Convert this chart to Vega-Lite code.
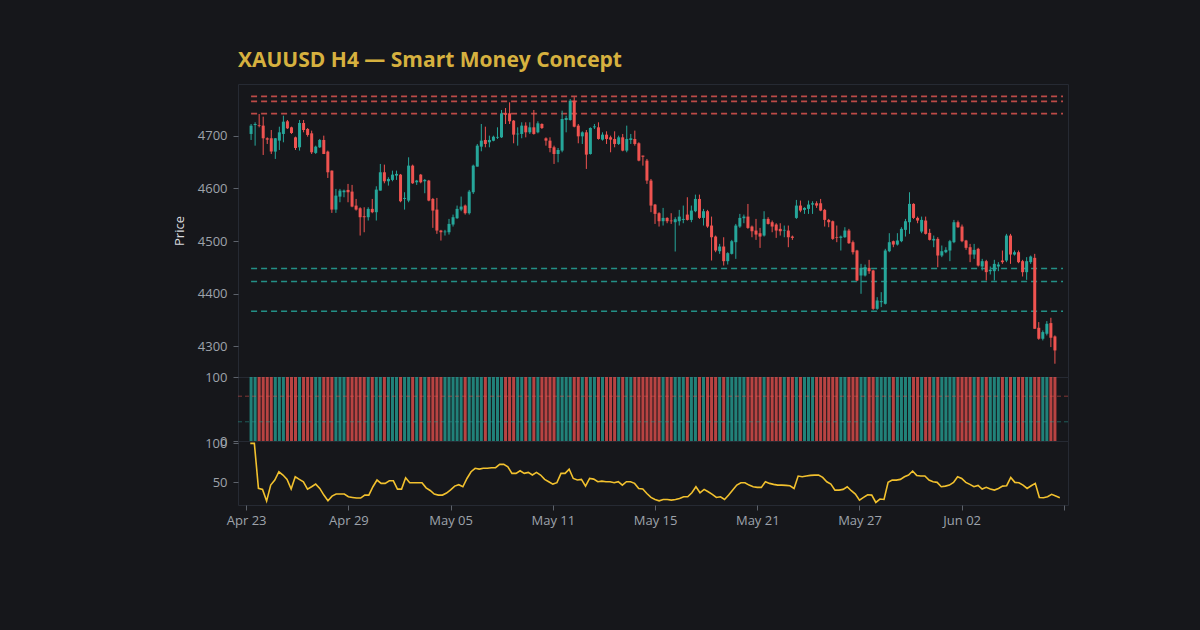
{
  "$schema": "https://vega.github.io/schema/vega-lite/v6.json",
  "background": "#16171b",
  "padding": {"left": 172, "top": 49, "right": 131, "bottom": 102},
  "spacing": 0,
  "bounds": "flush",
  "datasets": {
    "bars": [
      {"i":0,"o":4703.2,"h":4722.1,"l":4691.8,"c":4718.9,"v":100,"rsi":null},
      {"i":1,"o":4720.2,"h":4725.3,"l":4681.0,"c":4722.1,"v":100,"rsi":100},
      {"i":2,"o":4719.6,"h":4741.1,"l":4715.8,"c":4718.3,"v":100,"rsi":100},
      {"i":3,"o":4719.0,"h":4736.0,"l":4663.3,"c":4695.0,"v":100,"rsi":42.3},
      {"i":4,"o":4695.0,"h":4696.8,"l":4684.2,"c":4692.4,"v":100,"rsi":41},
      {"i":5,"o":4695.0,"h":4710.7,"l":4665.2,"c":4669.7,"v":100,"rsi":26},
      {"i":6,"o":4669.7,"h":4695.5,"l":4655.8,"c":4695.0,"v":100,"rsi":46.6},
      {"i":7,"o":4690.5,"h":4717.0,"l":4672.8,"c":4706.3,"v":100,"rsi":53},
      {"i":8,"o":4703.2,"h":4737.9,"l":4687.4,"c":4726.5,"v":100,"rsi":63.6},
      {"i":9,"o":4727.2,"h":4729.7,"l":4712.6,"c":4713.9,"v":100,"rsi":59.4},
      {"i":10,"o":4715.8,"h":4717.0,"l":4703.2,"c":4705.0,"v":100,"rsi":53.8},
      {"i":11,"o":4696.8,"h":4698.1,"l":4672.8,"c":4676.6,"v":100,"rsi":41.4},
      {"i":12,"o":4677.9,"h":4729.7,"l":4671.6,"c":4724.0,"v":100,"rsi":57.2},
      {"i":13,"o":4724.0,"h":4729.7,"l":4706.3,"c":4710.7,"v":100,"rsi":53.8},
      {"i":14,"o":4712.6,"h":4714.5,"l":4698.1,"c":4701.3,"v":100,"rsi":50.8},
      {"i":15,"o":4704.4,"h":4709.5,"l":4665.2,"c":4668.4,"v":100,"rsi":41.4},
      {"i":16,"o":4667.2,"h":4681.0,"l":4665.2,"c":4679.1,"v":100,"rsi":44.4},
      {"i":17,"o":4677.9,"h":4693.7,"l":4676.6,"c":4691.8,"v":100,"rsi":47.8},
      {"i":18,"o":4691.8,"h":4700.0,"l":4665.0,"c":4665.2,"v":100,"rsi":42.3},
      {"i":19,"o":4669.7,"h":4671.6,"l":4619.7,"c":4630.5,"v":100,"rsi":33.7},
      {"i":20,"o":4633.6,"h":4634.0,"l":4553.4,"c":4559.7,"v":100,"rsi":26.4},
      {"i":21,"o":4559.7,"h":4598.9,"l":4553.4,"c":4586.2,"v":100,"rsi":32.4},
      {"i":22,"o":4584.3,"h":4598.9,"l":4573.6,"c":4595.7,"v":100,"rsi":35},
      {"i":23,"o":4592.6,"h":4597.6,"l":4583.1,"c":4595.7,"v":100,"rsi":35},
      {"i":24,"o":4597.0,"h":4608.4,"l":4573.6,"c":4592.6,"v":100,"rsi":35},
      {"i":25,"o":4593.8,"h":4606.5,"l":4564.1,"c":4565.4,"v":100,"rsi":31.6},
      {"i":26,"o":4567.3,"h":4579.9,"l":4557.8,"c":4559.7,"v":100,"rsi":30.7},
      {"i":27,"o":4562.2,"h":4564.1,"l":4510.4,"c":4545.2,"v":100,"rsi":29.9},
      {"i":28,"o":4547.1,"h":4564.1,"l":4516.7,"c":4545.2,"v":100,"rsi":29.9},
      {"i":29,"o":4545.2,"h":4564.1,"l":4538.9,"c":4561.0,"v":100,"rsi":33.7},
      {"i":30,"o":4561.0,"h":4579.9,"l":4552.8,"c":4554.7,"v":100,"rsi":33.7},
      {"i":31,"o":4554.7,"h":4603.9,"l":4538.9,"c":4597.6,"v":100,"rsi":44.4},
      {"i":32,"o":4595.7,"h":4646.3,"l":4595.7,"c":4630.5,"v":100,"rsi":53},
      {"i":33,"o":4630.5,"h":4645.0,"l":4609.6,"c":4613.4,"v":100,"rsi":48.7},
      {"i":34,"o":4613.4,"h":4621.0,"l":4605.2,"c":4617.8,"v":100,"rsi":48.7},
      {"i":35,"o":4616.0,"h":4633.6,"l":4613.4,"c":4626.0,"v":100,"rsi":52},
      {"i":36,"o":4624.2,"h":4633.6,"l":4616.0,"c":4627.4,"v":100,"rsi":52},
      {"i":37,"o":4626.0,"h":4627.3,"l":4573.6,"c":4575.5,"v":100,"rsi":41.4},
      {"i":38,"o":4579.9,"h":4592.6,"l":4559.7,"c":4581.8,"v":100,"rsi":41.4},
      {"i":39,"o":4576.8,"h":4658.9,"l":4573.6,"c":4643.1,"v":100,"rsi":55.9},
      {"i":40,"o":4643.1,"h":4645.0,"l":4608.4,"c":4609.6,"v":100,"rsi":49.6},
      {"i":41,"o":4611.5,"h":4616.0,"l":4606.5,"c":4614.7,"v":100,"rsi":49.6},
      {"i":42,"o":4626.0,"h":4627.3,"l":4609.6,"c":4611.5,"v":100,"rsi":49.6},
      {"i":43,"o":4613.4,"h":4617.8,"l":4590.7,"c":4616.0,"v":100,"rsi":49.6},
      {"i":44,"o":4614.7,"h":4616.0,"l":4575.5,"c":4576.8,"v":100,"rsi":43},
      {"i":45,"o":4579.9,"h":4581.8,"l":4525.0,"c":4557.8,"v":100,"rsi":39.6},
      {"i":46,"o":4559.7,"h":4581.8,"l":4513.6,"c":4519.9,"v":100,"rsi":35},
      {"i":47,"o":4519.9,"h":4521.2,"l":4500.9,"c":4516.7,"v":100,"rsi":33.7},
      {"i":48,"o":4516.7,"h":4521.2,"l":4510.4,"c":4518.0,"v":100,"rsi":33.7},
      {"i":49,"o":4516.7,"h":4542.0,"l":4512.3,"c":4532.5,"v":100,"rsi":36.3},
      {"i":50,"o":4531.3,"h":4550.2,"l":4527.5,"c":4545.2,"v":100,"rsi":40.5},
      {"i":51,"o":4543.3,"h":4567.3,"l":4542.0,"c":4561.0,"v":100,"rsi":45.2},
      {"i":52,"o":4559.7,"h":4584.4,"l":4556.6,"c":4565.4,"v":100,"rsi":47},
      {"i":53,"o":4567.3,"h":4569.2,"l":4550.2,"c":4552.8,"v":100,"rsi":44.4},
      {"i":54,"o":4552.8,"h":4597.0,"l":4550.2,"c":4593.8,"v":100,"rsi":55},
      {"i":55,"o":4592.6,"h":4645.0,"l":4589.4,"c":4643.1,"v":100,"rsi":63.6},
      {"i":56,"o":4641.2,"h":4684.2,"l":4641.2,"c":4681.0,"v":100,"rsi":68},
      {"i":57,"o":4679.1,"h":4722.1,"l":4670.3,"c":4690.5,"v":100,"rsi":67},
      {"i":58,"o":4691.8,"h":4717.0,"l":4677.9,"c":4684.2,"v":100,"rsi":68},
      {"i":59,"o":4687.4,"h":4700.0,"l":4677.9,"c":4691.8,"v":100,"rsi":68},
      {"i":60,"o":4690.5,"h":4700.0,"l":4689.3,"c":4698.1,"v":100,"rsi":68.8},
      {"i":61,"o":4696.2,"h":4715.8,"l":4693.7,"c":4697.6,"v":100,"rsi":68.8},
      {"i":62,"o":4696.8,"h":4748.7,"l":4695.6,"c":4742.3,"v":100,"rsi":73},
      {"i":63,"o":4742.3,"h":4752.4,"l":4722.1,"c":4739.8,"v":100,"rsi":73},
      {"i":64,"o":4742.3,"h":4763.2,"l":4722.1,"c":4727.2,"v":100,"rsi":70},
      {"i":65,"o":4728.4,"h":4729.7,"l":4685.5,"c":4701.9,"v":100,"rsi":61.5},
      {"i":66,"o":4702.5,"h":4715.8,"l":4681.0,"c":4703.8,"v":100,"rsi":61.5},
      {"i":67,"o":4703.2,"h":4725.3,"l":4695.0,"c":4719.0,"v":100,"rsi":64.9},
      {"i":68,"o":4719.0,"h":4725.3,"l":4696.8,"c":4706.3,"v":100,"rsi":61.5},
      {"i":69,"o":4706.3,"h":4725.3,"l":4703.2,"c":4715.8,"v":100,"rsi":62.8},
      {"i":70,"o":4715.8,"h":4748.7,"l":4701.9,"c":4703.2,"v":100,"rsi":59.4},
      {"i":71,"o":4706.3,"h":4727.2,"l":4704.4,"c":4723.4,"v":100,"rsi":62.8},
      {"i":72,"o":4722.1,"h":4723.4,"l":4712.6,"c":4714.5,"v":100,"rsi":59.4},
      {"i":73,"o":4694.9,"h":4696.8,"l":4681.0,"c":4690.5,"v":100,"rsi":53.8},
      {"i":74,"o":4690.5,"h":4696.8,"l":4668.4,"c":4676.6,"v":100,"rsi":50.8},
      {"i":75,"o":4677.9,"h":4681.0,"l":4646.3,"c":4665.2,"v":100,"rsi":47.8},
      {"i":76,"o":4665.2,"h":4676.6,"l":4649.4,"c":4672.8,"v":100,"rsi":49.6},
      {"i":77,"o":4671.6,"h":4747.4,"l":4668.4,"c":4731.6,"v":100,"rsi":61.5},
      {"i":78,"o":4729.7,"h":4737.9,"l":4706.3,"c":4733.5,"v":100,"rsi":61.5},
      {"i":79,"o":4729.7,"h":4769.5,"l":4728.4,"c":4766.3,"v":100,"rsi":67},
      {"i":80,"o":4766.3,"h":4773.0,"l":4715.8,"c":4717.0,"v":100,"rsi":55},
      {"i":81,"o":4719.0,"h":4722.1,"l":4685.5,"c":4698.7,"v":100,"rsi":53},
      {"i":82,"o":4698.7,"h":4708.2,"l":4684.2,"c":4706.3,"v":100,"rsi":53.8},
      {"i":83,"o":4706.3,"h":4710.7,"l":4636.8,"c":4664.0,"v":100,"rsi":45.2},
      {"i":84,"o":4665.2,"h":4715.8,"l":4664.0,"c":4714.5,"v":100,"rsi":55},
      {"i":85,"o":4715.8,"h":4722.1,"l":4712.6,"c":4717.6,"v":100,"rsi":54.2},
      {"i":86,"o":4715.8,"h":4725.3,"l":4692.4,"c":4693.7,"v":100,"rsi":50.8},
      {"i":87,"o":4692.4,"h":4706.3,"l":4690.5,"c":4701.9,"v":100,"rsi":51.6},
      {"i":88,"o":4701.9,"h":4708.2,"l":4684.2,"c":4693.7,"v":100,"rsi":50.8},
      {"i":89,"o":4696.8,"h":4700.0,"l":4668.4,"c":4692.4,"v":100,"rsi":50.8},
      {"i":90,"o":4693.7,"h":4708.2,"l":4677.9,"c":4684.2,"v":100,"rsi":49.5},
      {"i":91,"o":4684.2,"h":4700.0,"l":4682.3,"c":4696.8,"v":100,"rsi":50.8},
      {"i":92,"o":4696.8,"h":4703.2,"l":4670.3,"c":4671.6,"v":100,"rsi":46.5},
      {"i":93,"o":4671.6,"h":4719.0,"l":4668.4,"c":4693.7,"v":100,"rsi":50.8},
      {"i":94,"o":4691.8,"h":4703.2,"l":4684.2,"c":4694.9,"v":100,"rsi":50.8},
      {"i":95,"o":4693.7,"h":4709.5,"l":4681.0,"c":4684.2,"v":100,"rsi":48.7},
      {"i":96,"o":4685.5,"h":4687.4,"l":4651.3,"c":4652.6,"v":100,"rsi":42.2},
      {"i":97,"o":4662.1,"h":4662.1,"l":4643.1,"c":4660.0,"v":100,"rsi":41.4},
      {"i":98,"o":4652.6,"h":4655.8,"l":4608.4,"c":4614.7,"v":100,"rsi":35.8},
      {"i":99,"o":4614.7,"h":4617.8,"l":4554.7,"c":4567.3,"v":100,"rsi":30.7},
      {"i":100,"o":4569.2,"h":4570.4,"l":4532.5,"c":4551.5,"v":100,"rsi":28.1},
      {"i":101,"o":4552.8,"h":4554.7,"l":4527.5,"c":4537.6,"v":100,"rsi":26.4},
      {"i":102,"o":4537.6,"h":4562.9,"l":4529.4,"c":4543.9,"v":100,"rsi":28.1},
      {"i":103,"o":4543.9,"h":4545.2,"l":4533.8,"c":4537.6,"v":100,"rsi":28.1},
      {"i":104,"o":4538.9,"h":4552.8,"l":4532.5,"c":4537.6,"v":100,"rsi":27.3},
      {"i":105,"o":4535.7,"h":4545.2,"l":4480.1,"c":4541.4,"v":100,"rsi":28.1},
      {"i":106,"o":4537.6,"h":4559.1,"l":4529.4,"c":4546.4,"v":100,"rsi":29.4},
      {"i":107,"o":4540.1,"h":4567.3,"l":4533.8,"c":4542.0,"v":100,"rsi":31.6},
      {"i":108,"o":4550.2,"h":4583.1,"l":4538.9,"c":4540.1,"v":100,"rsi":31.6},
      {"i":109,"o":4540.1,"h":4567.3,"l":4535.7,"c":4557.8,"v":100,"rsi":36.7},
      {"i":110,"o":4556.6,"h":4588.1,"l":4554.7,"c":4579.9,"v":100,"rsi":44.4},
      {"i":111,"o":4579.9,"h":4588.1,"l":4542.0,"c":4543.9,"v":100,"rsi":36.7},
      {"i":112,"o":4543.9,"h":4561.0,"l":4529.4,"c":4556.6,"v":100,"rsi":41},
      {"i":113,"o":4556.6,"h":4559.1,"l":4525.0,"c":4527.5,"v":100,"rsi":38},
      {"i":114,"o":4529.4,"h":4546.4,"l":4463.0,"c":4507.2,"v":100,"rsi":34.6},
      {"i":115,"o":4508.5,"h":4510.4,"l":4478.8,"c":4482.0,"v":100,"rsi":30.7},
      {"i":116,"o":4480.7,"h":4494.6,"l":4475.7,"c":4489.6,"v":100,"rsi":31.6},
      {"i":117,"o":4489.6,"h":4507.2,"l":4453.5,"c":4461.8,"v":100,"rsi":28.1},
      {"i":118,"o":4461.8,"h":4478.8,"l":4455.4,"c":4477.0,"v":100,"rsi":33.7},
      {"i":119,"o":4475.7,"h":4502.2,"l":4474.4,"c":4499.7,"v":100,"rsi":40.1},
      {"i":120,"o":4497.8,"h":4532.5,"l":4466.2,"c":4529.4,"v":100,"rsi":46.5},
      {"i":121,"o":4527.5,"h":4551.5,"l":4525.0,"c":4543.9,"v":100,"rsi":49.5},
      {"i":122,"o":4543.3,"h":4550.2,"l":4533.8,"c":4546.4,"v":100,"rsi":49.5},
      {"i":123,"o":4546.4,"h":4570.4,"l":4523.1,"c":4524.9,"v":100,"rsi":46.5},
      {"i":124,"o":4527.5,"h":4529.4,"l":4507.2,"c":4518.6,"v":100,"rsi":44.4},
      {"i":125,"o":4519.9,"h":4542.0,"l":4502.2,"c":4512.3,"v":100,"rsi":43.6},
      {"i":126,"o":4514.8,"h":4525.0,"l":4487.0,"c":4508.5,"v":100,"rsi":43.6},
      {"i":127,"o":4510.4,"h":4556.6,"l":4508.5,"c":4542.0,"v":100,"rsi":50.8},
      {"i":128,"o":4542.0,"h":4545.2,"l":4531.3,"c":4532.5,"v":100,"rsi":48.7},
      {"i":129,"o":4535.7,"h":4538.9,"l":4516.7,"c":4527.5,"v":100,"rsi":47.4},
      {"i":130,"o":4531.3,"h":4533.8,"l":4506.0,"c":4519.9,"v":100,"rsi":46.5},
      {"i":131,"o":4523.1,"h":4533.8,"l":4510.4,"c":4518.6,"v":100,"rsi":46.5},
      {"i":132,"o":4519.9,"h":4529.4,"l":4507.2,"c":4521.2,"v":100,"rsi":46.1},
      {"i":133,"o":4519.9,"h":4529.4,"l":4488.3,"c":4507.2,"v":100,"rsi":45.7},
      {"i":134,"o":4508.5,"h":4510.4,"l":4502.2,"c":4506.0,"v":100,"rsi":42.2},
      {"i":135,"o":4543.9,"h":4578.0,"l":4542.0,"c":4567.3,"v":100,"rsi":58.1},
      {"i":136,"o":4567.3,"h":4576.8,"l":4554.7,"c":4557.8,"v":100,"rsi":57.2},
      {"i":137,"o":4559.1,"h":4564.1,"l":4551.5,"c":4562.9,"v":100,"rsi":58.1},
      {"i":138,"o":4561.0,"h":4576.8,"l":4551.5,"c":4569.2,"v":100,"rsi":58.9},
      {"i":139,"o":4569.2,"h":4575.5,"l":4551.5,"c":4571.7,"v":100,"rsi":59.3},
      {"i":140,"o":4571.7,"h":4575.5,"l":4562.9,"c":4567.3,"v":100,"rsi":59.3},
      {"i":141,"o":4571.7,"h":4579.9,"l":4556.6,"c":4557.8,"v":100,"rsi":56.4},
      {"i":142,"o":4559.1,"h":4561.0,"l":4527.5,"c":4540.1,"v":100,"rsi":50.8},
      {"i":143,"o":4540.1,"h":4542.0,"l":4526.2,"c":4535.7,"v":100,"rsi":47.8},
      {"i":144,"o":4537.6,"h":4538.9,"l":4502.2,"c":4504.1,"v":100,"rsi":40.1},
      {"i":145,"o":4507.3,"h":4529.4,"l":4497.8,"c":4506.0,"v":100,"rsi":40.1},
      {"i":146,"o":4506.0,"h":4510.4,"l":4482.0,"c":4508.5,"v":100,"rsi":41},
      {"i":147,"o":4507.3,"h":4526.2,"l":4506.0,"c":4519.9,"v":100,"rsi":44.4},
      {"i":148,"o":4519.9,"h":4523.1,"l":4494.6,"c":4495.9,"v":100,"rsi":39.3},
      {"i":149,"o":4497.8,"h":4501.0,"l":4474.4,"c":4478.8,"v":100,"rsi":35},
      {"i":150,"o":4482.0,"h":4483.3,"l":4423.9,"c":4425.1,"v":100,"rsi":27.3},
      {"i":151,"o":4434.6,"h":4456.7,"l":4399.9,"c":4449.1,"v":100,"rsi":30.7},
      {"i":152,"o":4434.6,"h":4455.4,"l":4432.7,"c":4450.4,"v":100,"rsi":34.1},
      {"i":153,"o":4449.1,"h":4464.3,"l":4437.8,"c":4442.8,"v":100,"rsi":33.7},
      {"i":154,"o":4444.1,"h":4445.4,"l":4369.5,"c":4371.4,"v":100,"rsi":24.3},
      {"i":155,"o":4371.4,"h":4393.5,"l":4369.5,"c":4387.2,"v":100,"rsi":28.6},
      {"i":156,"o":4384.0,"h":4403.0,"l":4374.6,"c":4385.9,"v":100,"rsi":28.1},
      {"i":157,"o":4380.9,"h":4485.2,"l":4379.6,"c":4482.0,"v":100,"rsi":50},
      {"i":158,"o":4480.7,"h":4514.9,"l":4478.8,"c":4497.8,"v":100,"rsi":52.9},
      {"i":159,"o":4499.7,"h":4500.9,"l":4488.3,"c":4493.3,"v":100,"rsi":52.9},
      {"i":160,"o":4493.3,"h":4514.9,"l":4491.5,"c":4501.0,"v":100,"rsi":53.8},
      {"i":161,"o":4499.7,"h":4526.2,"l":4497.8,"c":4523.1,"v":100,"rsi":57.2},
      {"i":162,"o":4521.2,"h":4542.0,"l":4508.5,"c":4537.6,"v":100,"rsi":59.3},
      {"i":163,"o":4535.7,"h":4592.6,"l":4513.6,"c":4570.5,"v":100,"rsi":64.5},
      {"i":164,"o":4570.5,"h":4571.7,"l":4542.0,"c":4543.9,"v":100,"rsi":58.9},
      {"i":165,"o":4543.9,"h":4546.4,"l":4533.8,"c":4538.9,"v":100,"rsi":58.1},
      {"i":166,"o":4518.0,"h":4546.4,"l":4514.9,"c":4540.1,"v":100,"rsi":58.1},
      {"i":167,"o":4538.9,"h":4546.4,"l":4512.3,"c":4513.6,"v":100,"rsi":52.9},
      {"i":168,"o":4515.5,"h":4523.1,"l":4501.0,"c":4502.2,"v":100,"rsi":50.8},
      {"i":169,"o":4501.0,"h":4510.4,"l":4488.3,"c":4504.1,"v":100,"rsi":50},
      {"i":170,"o":4504.1,"h":4507.3,"l":4450.4,"c":4472.5,"v":100,"rsi":44.4},
      {"i":171,"o":4472.5,"h":4491.5,"l":4469.4,"c":4480.7,"v":100,"rsi":45.2},
      {"i":172,"o":4478.8,"h":4488.3,"l":4477.0,"c":4483.3,"v":100,"rsi":46.5},
      {"i":173,"o":4482.0,"h":4502.2,"l":4461.8,"c":4499.7,"v":100,"rsi":50},
      {"i":174,"o":4497.8,"h":4540.1,"l":4495.9,"c":4535.7,"v":100,"rsi":57.2},
      {"i":175,"o":4535.7,"h":4538.9,"l":4525.0,"c":4526.2,"v":100,"rsi":55.1},
      {"i":176,"o":4527.5,"h":4531.3,"l":4497.8,"c":4499.7,"v":100,"rsi":50},
      {"i":177,"o":4501.0,"h":4502.2,"l":4483.3,"c":4487.1,"v":100,"rsi":47.4},
      {"i":178,"o":4488.3,"h":4494.6,"l":4459.9,"c":4474.4,"v":100,"rsi":44.4},
      {"i":179,"o":4474.4,"h":4494.6,"l":4466.2,"c":4483.3,"v":100,"rsi":46.1},
      {"i":180,"o":4485.2,"h":4487.1,"l":4451.7,"c":4453.5,"v":100,"rsi":41.4},
      {"i":181,"o":4451.7,"h":4466.2,"l":4444.1,"c":4461.8,"v":100,"rsi":43.6},
      {"i":182,"o":4461.8,"h":4464.3,"l":4425.1,"c":4441.0,"v":100,"rsi":41.4},
      {"i":183,"o":4442.8,"h":4451.7,"l":4436.5,"c":4445.4,"v":100,"rsi":40.1},
      {"i":184,"o":4442.8,"h":4464.3,"l":4425.1,"c":4456.7,"v":100,"rsi":42.2},
      {"i":185,"o":4451.7,"h":4459.9,"l":4442.8,"c":4455.4,"v":100,"rsi":45.2},
      {"i":186,"o":4463.0,"h":4482.0,"l":4456.7,"c":4459.9,"v":100,"rsi":45.7},
      {"i":187,"o":4463.0,"h":4513.6,"l":4459.9,"c":4510.4,"v":100,"rsi":56.4},
      {"i":188,"o":4510.4,"h":4513.6,"l":4456.7,"c":4474.4,"v":100,"rsi":50},
      {"i":189,"o":4474.4,"h":4482.0,"l":4472.5,"c":4478.8,"v":100,"rsi":49.5},
      {"i":190,"o":4478.8,"h":4482.0,"l":4458.0,"c":4459.9,"v":100,"rsi":46.5},
      {"i":191,"o":4461.8,"h":4464.3,"l":4432.7,"c":4440.9,"v":100,"rsi":42.2},
      {"i":192,"o":4440.9,"h":4469.4,"l":4426.4,"c":4461.8,"v":100,"rsi":45.7},
      {"i":193,"o":4460.0,"h":4472.5,"l":4456.7,"c":4470.6,"v":100,"rsi":48.7},
      {"i":194,"o":4468.1,"h":4475.7,"l":4333.5,"c":4333.5,"v":100,"rsi":30.7},
      {"i":195,"o":4335.4,"h":4346.2,"l":4312.7,"c":4314.6,"v":100,"rsi":30.3},
      {"i":196,"o":4314.6,"h":4330.4,"l":4311.4,"c":4327.2,"v":100,"rsi":31.6},
      {"i":197,"o":4324.1,"h":4348.1,"l":4320.9,"c":4343.0,"v":100,"rsi":34.6},
      {"i":198,"o":4344.3,"h":4354.4,"l":4298.8,"c":4316.5,"v":100,"rsi":32.4},
      {"i":199,"o":4319.0,"h":4320.9,"l":4267.2,"c":4292.4,"v":100,"rsi":30.3}
    ],
    "levels": [
      {"price":4774.5,"kind":"resistance","from_i":0,"to_i":201},
      {"price":4765.0,"kind":"resistance","from_i":0,"to_i":201},
      {"price":4741.7,"kind":"resistance","from_i":0,"to_i":201},
      {"price":4448.0,"kind":"support","from_i":0,"to_i":201},
      {"price":4423.2,"kind":"support","from_i":0,"to_i":201},
      {"price":4366.9,"kind":"support","from_i":0,"to_i":201}
    ],
    "rsiLevels": [
      {"lvl":70,"kind":"overbought"},
      {"lvl":30,"kind":"oversold"}
    ]
  },
  "vconcat": [
    {
      "title": {"text": "XAUUSD H4 — Smart Money Concept", "anchor": "start", "frame": "group", "font": "Open Sans", "fontSize": 21, "fontWeight": "bold", "color": "#d6b13f", "offset": 13},
      "width": 830,
      "height": 293,
      "layer": [
        {
          "data": {"name": "levels"},
          "mark": {"type": "rule", "strokeWidth": 1.6, "strokeDash": [6, 4], "opacity": 0.85},
          "encoding": {
            "x": {"field": "from_i", "type": "quantitative", "scale": {"domain": [-2, 201], "nice": false, "zero": false}, "axis": null},
            "x2": {"field": "to_i"},
            "y": {"field": "price", "type": "quantitative"},
            "color": {"condition": {"test": "datum.kind === 'resistance'", "value": "#d9534f"}, "value": "#26a69a"}
          }
        },
        {
          "data": {"name": "bars"},
          "mark": {"type": "rule", "strokeWidth": 1},
          "encoding": {
            "x": {"field": "i", "type": "quantitative"},
            "y": {"field": "l", "type": "quantitative", "scale": {"domain": [4242, 4798], "nice": false, "zero": false}, "axis": {"title": "Price", "values": [4300, 4400, 4500, 4600, 4700], "format": "d"}},
            "y2": {"field": "h"},
            "color": {"condition": {"test": "datum.c >= datum.o", "value": "#26a69a"}, "value": "#ef5350"}
          }
        },
        {
          "data": {"name": "bars"},
          "mark": {"type": "bar", "size": 3},
          "encoding": {
            "x": {"field": "i", "type": "quantitative"},
            "y": {"field": "o", "type": "quantitative"},
            "y2": {"field": "c"},
            "color": {"condition": {"test": "datum.c >= datum.o", "value": "#26a69a"}, "value": "#ef5350"}
          }
        }
      ]
    },
    {
      "width": 830,
      "height": 64,
      "layer": [
        {
          "data": {"name": "bars"},
          "mark": {"type": "bar", "size": 3, "opacity": 0.75, "clip": true},
          "encoding": {
            "x": {"field": "i", "type": "quantitative", "scale": {"domain": [-2, 201], "nice": false, "zero": false}, "axis": null},
            "y": {"field": "v", "type": "quantitative", "scale": {"domain": [0, 100], "nice": false}, "axis": {"title": null, "values": [0, 50, 100], "format": "d"}},
            "color": {"condition": {"test": "datum.c >= datum.o", "value": "#26a69a"}, "value": "#ef5350"}
          }
        },
        {
          "data": {"name": "rsiLevels"},
          "mark": {"type": "rule", "strokeWidth": 1, "strokeDash": [4, 3], "opacity": 0.5},
          "encoding": {
            "y": {"field": "lvl", "type": "quantitative"},
            "color": {"condition": {"test": "datum.kind === 'overbought'", "value": "#ef5350"}, "value": "#26a69a"}
          }
        }
      ]
    },
    {
      "width": 830,
      "height": 64,
      "data": {"name": "bars"},
      "mark": {"type": "line", "color": "#f2c12e", "strokeWidth": 1.6},
      "encoding": {
        "x": {"field": "i", "type": "quantitative", "scale": {"domain": [-2, 201], "nice": false, "zero": false}, "axis": {"title": null, "values": [0, 25, 50, 75, 100, 125, 150, 175, 200], "labelFlush": false, "labelPadding": 4, "labelExpr": "datum.value >= 200 ? '' : ['Apr 23','Apr 29','May 05','May 11','May 15','May 21','May 27','Jun 02'][datum.value / 25]"}},
        "y": {"field": "rsi", "type": "quantitative", "scale": {"domain": [21, 103], "nice": false, "zero": false}, "axis": {"title": null, "values": [50, 100], "format": "d"}}
      }
    }
  ],
  "config": {
    "view": {"stroke": "#262a33", "strokeWidth": 1},
    "axis": {"domain": false, "grid": false, "labelFont": "Open Sans", "labelFontSize": 13, "labelColor": "#9ea3ab", "tickColor": "#5d626b", "tickSize": 5, "labelPadding": 6, "titleFont": "Open Sans", "titleFontSize": 13, "titleFontWeight": "normal", "titleColor": "#d8dade", "titlePadding": 11}
  }
}
